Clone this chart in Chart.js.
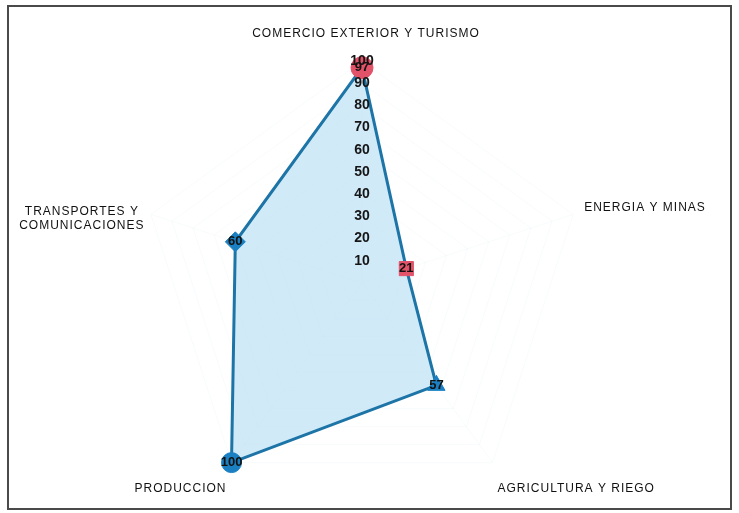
<!DOCTYPE html>
<html>
<head>
<meta charset="utf-8">
<script src="https://cdn.jsdelivr.net/npm/chart.js@4/dist/chart.umd.min.js"></script>
<style>
  html, body { margin: 0; padding: 0; background: #ffffff; }
  #wrap { position: relative; width: 739px; height: 513px; }
</style>
</head>
<body>
<div id="wrap"><canvas id="c"></canvas></div>
<script>
// ---- data ----
const categories = [
  'COMERCIO EXTERIOR Y TURISMO',
  'ENERGIA Y MINAS',
  'AGRICULTURA Y RIEGO',
  'PRODUCCION',
  ['TRANSPORTES Y', 'COMUNICACIONES']
];
const values = [97, 21, 57, 100, 60];
const scaleMin = 0;
const scaleMax = 100;
const scaleStep = 10;

// ---- styles ----
const pointShapes = ['circle', 'rect', 'triangle', 'circle', 'rectRot'];
const pointColors = ['#e2536a', '#e2536a', '#1b80c2', '#1b80c2', '#1b80c2'];
const pointSizes = [11, 10, 10, 10, 10];
const labelFont = '12px "Liberation Sans", Arial, sans-serif';
// label placement relative to the outer vertex of each axis: [dx, dy, align]
const labelPlacement = [
  [4, -27, 'center'],
  [11, -7, 'left'],
  [5, 26, 'left'],
  [-5, 26, 'right'],
  [-69, 4, 'center']
];

const frame = {
  id: 'frame',
  beforeDraw(chart) {
    const ctx = chart.ctx;
    ctx.save();
    ctx.fillStyle = '#ffffff';
    ctx.fillRect(0, 0, chart.width, chart.height);
    ctx.strokeStyle = '#4a4a4a';
    ctx.lineWidth = 2;
    ctx.strokeRect(8, 6, 723, 503);
    ctx.restore();
  }
};

const axisTitles = {
  id: 'axisTitles',
  beforeDatasetsDraw(chart) {
    const scale = chart.scales.r;
    const ctx = chart.ctx;
    ctx.save();
    ctx.font = labelFont;
    if ('letterSpacing' in ctx) ctx.letterSpacing = '1px';
    ctx.fillStyle = '#111111';
    ctx.textBaseline = 'middle';
    categories.forEach((lab, i) => {
      const p = scale.getPointPosition(i, scale.drawingArea);
      const [dx, dy, align] = labelPlacement[i];
      ctx.textAlign = align;
      const lines = Array.isArray(lab) ? lab : [lab];
      const lh = 14;
      const y0 = p.y + dy - (lines.length - 1) * lh / 2;
      lines.forEach((ln, k) => ctx.fillText(ln, p.x + dx, y0 + k * lh));
    });
    ctx.restore();
  }
};

const valueLabels = {
  id: 'valueLabels',
  afterDraw(chart) {
    const ctx = chart.ctx;
    const meta = chart.getDatasetMeta(0);
    ctx.save();
    ctx.font = 'bold 13px "Liberation Sans", Arial, sans-serif';
    ctx.fillStyle = '#111111';
    ctx.textAlign = 'center';
    ctx.textBaseline = 'middle';
    meta.data.forEach((pt, i) => {
      ctx.fillText(String(values[i]), pt.x, pt.y);
    });
    ctx.restore();
  }
};

new Chart(document.getElementById('c'), {
  type: 'radar',
  data: {
    labels: categories,
    datasets: [{
      data: values,
      borderColor: '#1d74a7',
      borderWidth: 3,
      backgroundColor: 'rgba(180, 221, 243, 0.62)',
      fill: true,
      pointStyle: pointShapes,
      pointRadius: pointSizes,
      pointBackgroundColor: pointColors,
      pointBorderColor: pointColors,
      pointBorderWidth: 1
    }]
  },
  options: {
    responsive: true,
    maintainAspectRatio: false,
    animation: false,
    layout: { padding: { top: 54, bottom: -7, left: 0, right: 15 } },
    plugins: { legend: { display: false }, tooltip: { enabled: false } },
    scales: {
      r: {
        min: scaleMin,
        max: scaleMax,
        ticks: {
          stepSize: scaleStep,
          showLabelBackdrop: false,
          backdropPadding: 0,
          z: 1,
          color: '#151515',
          font: { family: '"Liberation Sans", Arial, sans-serif', size: 14, weight: 'bold' }
        },
        pointLabels: { display: false },
        grid: { color: 'rgba(120, 170, 200, 0.05)', lineWidth: 1 },
        angleLines: { color: 'rgba(120, 170, 200, 0.05)', lineWidth: 1 }
      }
    }
  },
  plugins: [frame, axisTitles, valueLabels]
});
</script>
</body>
</html>
